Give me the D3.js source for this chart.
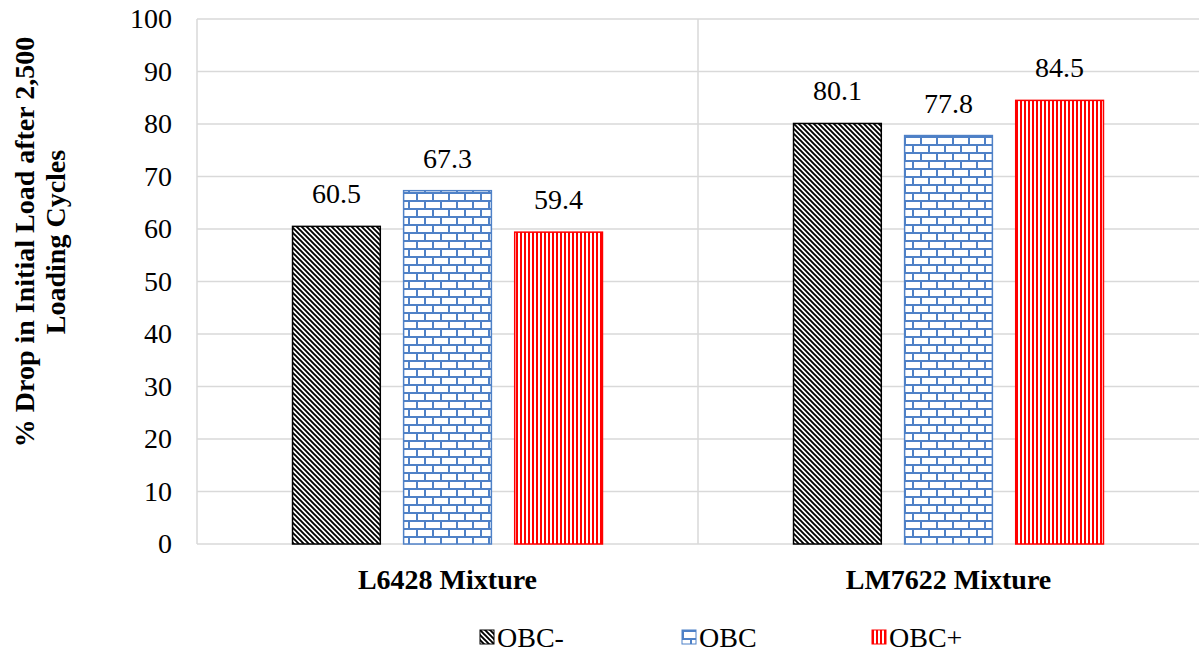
<!DOCTYPE html>
<html>
<head>
<meta charset="utf-8">
<script src="https://cdn.jsdelivr.net/npm/d3@7"></script>
<style>
  body { margin: 0; background: #fff; }
</style>
</head>
<body>
<div id="chart"></div>
<script>
const categories = ['L6428 Mixture', 'LM7622 Mixture'];
const seriesNames = ['OBC-', 'OBC', 'OBC+'];
const obcMinus = [60.5, 80.1];
const obc = [67.3, 77.8];
const obcPlus = [59.4, 84.5];
const yTicks = [0, 10, 20, 30, 40, 50, 60, 70, 80, 90, 100];

const width = 1199;
const height = 657;
const margin = { top: 19, right: 0, bottom: 113, left: 197 };
const FONT = 'Liberation Serif';

const svg = d3.select('#chart')
    .append('svg')
    .attr('width', width)
    .attr('height', height)
    .attr('font-family', FONT);

// Patterns for the bar fills
const defs = svg.append('defs');

const diag = defs.append('pattern')
    .attr('id', 'pat-diag')
    .attr('patternUnits', 'userSpaceOnUse')
    .attr('width', 5)
    .attr('height', 5);
diag.append('rect').attr('width', 5).attr('height', 5).attr('fill', '#fff');
diag.append('path')
    .attr('d', 'M-1,-1 L6,6 M-1,4 L1,6 M4,-1 L6,1')
    .attr('stroke', '#000')
    .attr('stroke-width', 1.9);

const brick = defs.append('pattern')
    .attr('id', 'pat-brick')
    .attr('patternUnits', 'userSpaceOnUse')
    .attr('width', 16)
    .attr('height', 16);
brick.append('rect').attr('width', 16).attr('height', 16).attr('fill', '#fff');
brick.append('path')
    .attr('d', 'M0,1 H16 M0,9 H16 M1,1 V9 M9,9 V17')
    .attr('stroke', '#4f81c7')
    .attr('stroke-width', 2);

const vert = defs.append('pattern')
    .attr('id', 'pat-vert')
    .attr('patternUnits', 'userSpaceOnUse')
    .attr('width', 4)
    .attr('height', 4);
vert.append('rect').attr('width', 4).attr('height', 4).attr('fill', '#fff');
vert.append('rect').attr('width', 2).attr('height', 4).attr('fill', '#ff0000');

const fills = ['url(#pat-diag)', 'url(#pat-brick)', 'url(#pat-vert)'];
const strokes = ['#000', '#4f81c7', '#ff0000'];

// Scales
const xScale = d3.scaleBand()
    .domain(categories)
    .range([margin.left, width - margin.right]);

const xInner = d3.scaleBand()
    .domain(seriesNames)
    .range([0, xScale.bandwidth()])
    .paddingInner(0.21)
    .paddingOuter(0.86);

const yScale = d3.scaleLinear()
    .domain([0, 100])
    .range([height - margin.bottom, margin.top]);

// Gridlines
svg.append('g')
    .selectAll('line')
    .data(yTicks)
    .enter()
    .append('line')
    .attr('x1', margin.left)
    .attr('x2', width - margin.right)
    .attr('y1', d => yScale(d))
    .attr('y2', d => yScale(d))
    .attr('stroke', '#d9d9d9')
    .attr('stroke-width', 1.5);

// Category separators
const seps = [margin.left, xScale(categories[1])];
svg.append('g')
    .selectAll('line')
    .data(seps)
    .enter()
    .append('line')
    .attr('x1', d => d)
    .attr('x2', d => d)
    .attr('y1', yScale(100))
    .attr('y2', yScale(0))
    .attr('stroke', '#d9d9d9')
    .attr('stroke-width', 1.5);

// Y axis labels
const yAxis = d3.axisLeft(yScale).tickValues(yTicks).tickSize(0).tickPadding(25);
const yG = svg.append('g')
    .attr('transform', `translate(${margin.left}, 0)`)
    .call(yAxis)
    .attr('font-family', FONT)
    .attr('font-size', 28);
yG.select('.domain').remove();
yG.selectAll('text')
    .attr('font-family', FONT)
    .attr('font-size', 28)
    .attr('fill', '#000');

// Bars
const seriesData = [obcMinus, obc, obcPlus];
seriesData.forEach((vals, si) => {
    const g = svg.append('g');
    g.selectAll('rect')
        .data(vals)
        .enter()
        .append('rect')
        .attr('x', (d, i) => xScale(categories[i]) + xInner(seriesNames[si]))
        .attr('y', d => yScale(d))
        .attr('width', xInner.bandwidth())
        .attr('height', d => yScale(0) - yScale(d))
        .attr('fill', fills[si])
        .attr('stroke', strokes[si])
        .attr('stroke-width', 1.5);

    g.selectAll('text')
        .data(vals)
        .enter()
        .append('text')
        .attr('x', (d, i) => xScale(categories[i]) + xInner(seriesNames[si]) + xInner.bandwidth() / 2)
        .attr('y', d => yScale(d) - 23)
        .attr('text-anchor', 'middle')
        .attr('font-family', FONT)
        .attr('font-size', 28)
        .text(d => d.toFixed(1));
});

// Category labels
svg.append('g')
    .selectAll('text')
    .data(categories)
    .enter()
    .append('text')
    .attr('x', d => xScale(d) + xScale.bandwidth() / 2)
    .attr('y', 589)
    .attr('text-anchor', 'middle')
    .attr('font-family', FONT)
    .attr('font-size', 28)
    .attr('font-weight', 'bold')
    .text(d => d);

// Y axis title
const yTitle = svg.append('text')
    .attr('transform', 'translate(0, 242) rotate(-90)')
    .attr('text-anchor', 'middle')
    .attr('font-family', FONT)
    .attr('font-size', 28)
    .attr('font-weight', 'bold');
yTitle.append('tspan').attr('x', 0).attr('y', 34).text('% Drop in Initial Load after 2,500');
yTitle.append('tspan').attr('x', 0).attr('y', 65).text('Loading Cycles');

// Legend
const legendX = [480, 682, 872];
const legend = svg.append('g');
seriesNames.forEach((name, i) => {
    const item = legend.append('g').attr('transform', `translate(${legendX[i]}, 630)`);
    item.append('rect')
        .attr('width', 14)
        .attr('height', 14)
        .attr('fill', fills[i])
        .attr('stroke', strokes[i])
        .attr('stroke-width', 1);
    item.append('text')
        .attr('x', 17)
        .attr('y', 17)
        .attr('font-family', FONT)
        .attr('font-size', 28)
        .text(name);
});
</script>
</body>
</html>
